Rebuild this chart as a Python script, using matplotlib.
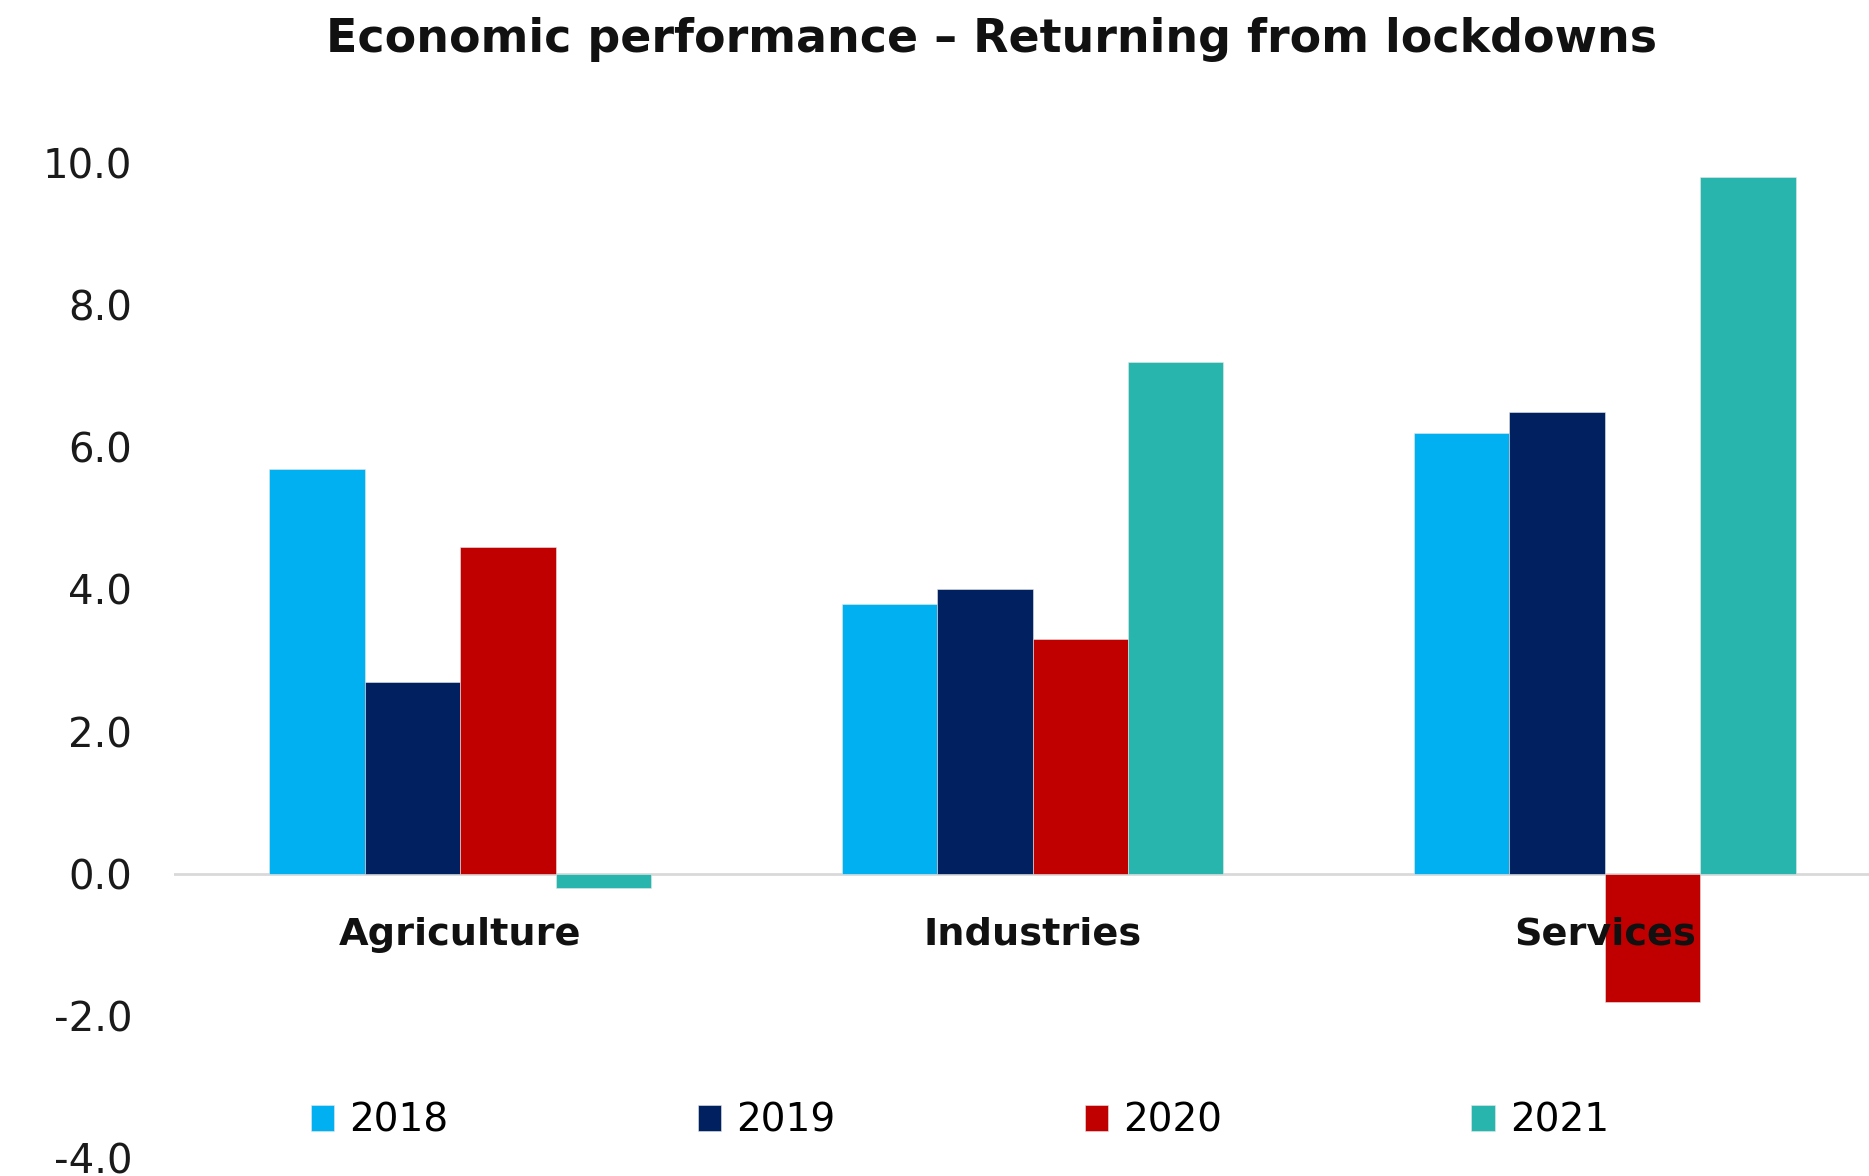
import numpy as np
import matplotlib
matplotlib.use("Agg")
from matplotlib import pyplot as plt

plt.rcParams['font.family'] = ['DejaVu Sans']

# growth by sector and year
sectors = ["Agriculture", "Industries", "Services"]
years = ["2018", "2019", "2020", "2021"]
growth_2018 = [5.7, 3.8, 6.2]
growth_2019 = [2.7, 4.0, 6.5]
growth_2020 = [4.6, 3.3, -1.8]
growth_2021 = [-0.2, 7.2, 9.8]
yticks = [-4.0, -2.0, 0.0, 2.0, 4.0, 6.0, 8.0, 10.0]

colors = ["#00B0F0", "#002060", "#C00000", "#27B5AD"]
series = [growth_2018, growth_2019, growth_2020, growth_2021]

fig = plt.figure(figsize=(18.69, 11.76), dpi=100)
ax = fig.add_axes([174 / 1869, 18 / 1176, (1891 - 174) / 1869, (1158 - 163) / 1176])

x = np.arange(len(sectors))
width = 2 / 3 / len(years)
for i, (vals, col, yr) in enumerate(zip(series, colors, years)):
    ax.bar(x + (i - 1.5) * width, vals, width, color=col, label=yr,
           edgecolor="#e8e8e8", linewidth=0.4, zorder=2)

ax.axhline(0, color="#D9D9D9", linewidth=2, zorder=1)
ax.set_xlim(-0.5, 2.5)
ax.set_ylim(-4, 10)
ax.set_yticks(yticks)
ax.set_yticklabels([f"{v:.1f}" for v in yticks], fontsize=29, color="#1a1a1a")
ax.tick_params(axis="y", length=0, pad=30)
ax.set_xticks([])
for s in ax.spines.values():
    s.set_visible(False)

for xi, name in zip(x, sectors):
    ax.text(xi, -0.86, name, ha="center", va="center", fontsize=27.5,
            fontweight="bold", color="#111111", zorder=3)

leg = ax.legend(loc="center", bbox_to_anchor=(960 / 1869, 1 - 1121 / 1176),
                bbox_transform=fig.transFigure, ncol=4, frameon=False,
                fontsize=28, handlelength=0.6, handleheight=0.65,
                handletextpad=0.4, columnspacing=6.4)

fig.text(991 / 1869, 1 - 39 / 1176, "Economic performance \u2013 Returning from lockdowns",
         ha="center", va="center", fontsize=33, fontweight="bold", color="#111111")

fig.savefig("out.png", dpi=100)
